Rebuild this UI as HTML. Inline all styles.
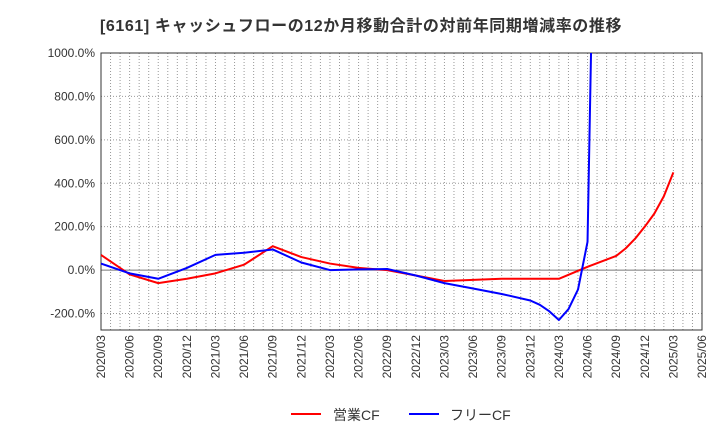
<!DOCTYPE html>
<html><head><meta charset="utf-8"><style>
body{margin:0;background:#fff;width:720px;height:440px;overflow:hidden;font-family:"Liberation Sans","Noto Sans CJK JP",sans-serif}
</style></head><body>
<svg id="c" width="720" height="440" xmlns="http://www.w3.org/2000/svg">
<text x="100" y="31" font-size="16" letter-spacing="0.6" font-weight="bold" fill="#333" font-family="Liberation Sans,Noto Sans CJK JP,sans-serif">[6161]  キャッシュフローの12か月移動合計の対前年同期増減率の推移</text>
<defs><clipPath id="clip"><rect x="101" y="53" width="601" height="277"/></clipPath></defs>
<g id="grid"></g><g id="axes"></g><g id="series" clip-path="url(#clip)"></g>
<g>
<line x1="291" y1="414" x2="321" y2="414" stroke="#f00" stroke-width="2"/>
<text x="333" y="420" font-size="14" fill="#333">営業CF</text>
<line x1="409" y1="414" x2="439" y2="414" stroke="#00f" stroke-width="2"/>
<text x="450" y="420" font-size="14" fill="#333">フリーCF</text>
</g>
</svg>
<script>
const yTicks=[1000,800,600,400,200,0,-200];
const xLabels=["2020/03","2020/06","2020/09","2020/12","2021/03","2021/06","2021/09","2021/12","2022/03","2022/06","2022/09","2022/12","2023/03","2023/06","2023/09","2023/12","2024/03","2024/06","2024/09","2024/12","2025/03","2025/06"];
// month offsets from 2020/03
const redMonths=[0,3,6,9,12,15,18,21,24,27,30,33,36,39,42,45,48,51,54,55,56,57,58,59,60];
const redValues=[70,-20,-60,-40,-15,25,110,60,30,10,0,-25,-50,-45,-40,-40,-40,15,65,100,145,200,260,340,450];
const blueMonths=[0,3,6,9,12,15,18,21,24,27,30,33,36,39,42,45,46,47,48,49,50,51,52];
const blueValues=[30,-15,-40,10,70,80,95,35,0,3,5,-25,-60,-85,-110,-140,-160,-190,-230,-180,-90,130,2500];
const X0=101,X1=702,Y0=53,Y1=330,vMax=1000,vMin=-276;
const xs=m=>X0+(X1-X0)*m/63;
const ys=v=>Y0+(Y1-Y0)*(vMax-v)/(vMax-vMin);
const NS="http://www.w3.org/2000/svg";
function mk(t,a,p){const e=document.createElementNS(NS,t);for(const k in a)e.setAttribute(k,a[k]);p.appendChild(e);return e;}
const grid=document.getElementById('grid'),axes=document.getElementById('axes'),ser=document.getElementById('series');
for(let m=1;m<63;m++){const l=mk('line',{x1:xs(m),x2:xs(m),y1:Y0,y2:Y1,stroke:'#999','stroke-width':1,'stroke-dasharray':'1,2'},grid);

}
yTicks.forEach(v=>{const l=mk('line',{x1:X0,x2:X1,y1:ys(v),y2:ys(v),stroke:v===0?'#777':'#999','stroke-width':1,'stroke-dasharray':v===0?'':'1,2'},grid);


const t=mk('text',{x:X0-6,y:ys(v)+4,'text-anchor':'end','font-size':12,fill:'#333'},axes);t.textContent=v.toFixed(1)+'%';

});
const fr=mk('rect',{x:X0,y:Y0,width:X1-X0,height:Y1-Y0,fill:'none',stroke:'#333','stroke-width':1},axes);


xLabels.forEach((s,i)=>{const x=xs(i*3);const t=mk('text',{x:0,y:0,transform:`translate(${x+4},${Y1+5}) rotate(-90)`,'text-anchor':'end','font-size':12,fill:'#333'},axes);t.textContent=s;

});
function line(ms,vs,c,n){const p=mk('polyline',{points:ms.map((m,i)=>xs(m)+','+ys(vs[i])).join(' '),fill:'none',stroke:c,'stroke-width':2,'stroke-linejoin':'round'},ser);

}
line(redMonths,redValues,'#f00','operating-cf-line');
line(blueMonths,blueValues,'#00f','free-cf-line');
</script>
</body></html>
